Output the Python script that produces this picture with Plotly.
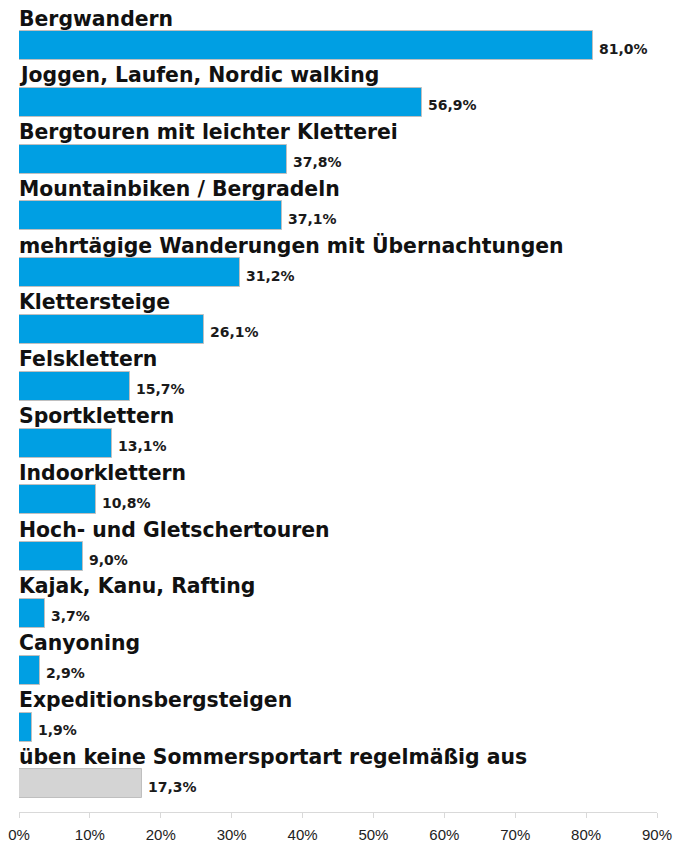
import plotly.graph_objects as go

categories = [
    "Bergwandern",
    "Joggen, Laufen, Nordic walking",
    "Bergtouren mit leichter Kletterei",
    "Mountainbiken / Bergradeln",
    "mehrtägige Wanderungen mit Übernachtungen",
    "Klettersteige",
    "Felsklettern",
    "Sportklettern",
    "Indoorklettern",
    "Hoch- und Gletschertouren",
    "Kajak, Kanu, Rafting",
    "Canyoning",
    "Expeditionsbergsteigen",
    "üben keine Sommersportart regelmäßig aus",
]
values = [81.0, 56.9, 37.8, 37.1, 31.2, 26.1, 15.7, 13.1, 10.8, 9.0, 3.7, 2.9, 1.9, 17.3]
value_labels = ["81,0%", "56,9%", "37,8%", "37,1%", "31,2%", "26,1%", "15,7%",
                "13,1%", "10,8%", "9,0%", "3,7%", "2,9%", "1,9%", "17,3%"]
tick_vals = [0, 10, 20, 30, 40, 50, 60, 70, 80, 90]
tick_text = ["0%", "10%", "20%", "30%", "40%", "50%", "60%", "70%", "80%", "90%"]

BLUE = "#009FE3"
GREY = "#D4D4D4"
colors = [BLUE] * (len(values) - 1) + [GREY]
ypos = list(range(len(values)))

fig = go.Figure()
fig.add_trace(go.Bar(
    x=values, y=ypos, orientation="h",
    marker=dict(color=colors, line=dict(color="#BFBFBF", width=1)),
    width=0.51, hoverinfo="skip",
))

label_font = "DejaVu Sans, Verdana, sans-serif"
tick_font = "Liberation Sans, Arial, sans-serif"
for i, (cat, v, lab) in enumerate(zip(categories, values, value_labels)):
    fig.add_annotation(x=0, y=i, xref="x", yref="y", text=f"<b>{cat}</b>",
                       showarrow=False, xanchor="left", yanchor="middle",
                       xshift=-2, yshift=27,
                       font=dict(family=label_font, size=20.4, color="#111111"))
    fig.add_annotation(x=v, y=i, xref="x", yref="y", text=f"<b>{lab}</b>",
                       showarrow=False, xanchor="left", yanchor="middle",
                       xshift=4, yshift=-3,
                       font=dict(family=label_font, size=14, color="#1a1a1a"))

fig.update_layout(
    width=675, height=848,
    margin=dict(l=19, r=18, t=0, b=36),
    paper_bgcolor="white", plot_bgcolor="white",
    showlegend=False,
    bargap=0,
)
fig.update_xaxes(range=[0, 90], tickvals=tick_vals, ticktext=tick_text,
                 showgrid=False, zeroline=False, showline=True,
                 linecolor="#D9D9D9", linewidth=1,
                 ticks="outside", ticklen=5, tickcolor="#D9D9D9",
                 ticklabelstandoff=4,
                 tickfont=dict(family=tick_font, size=15, color="#222222"))
fig.update_yaxes(range=[13.495, -0.801], showticklabels=False, showgrid=False,
                 zeroline=False, showline=False)

fig.write_html("out.html", config={"displayModeBar": False},
               post_script="document.body.style.margin='0';")
